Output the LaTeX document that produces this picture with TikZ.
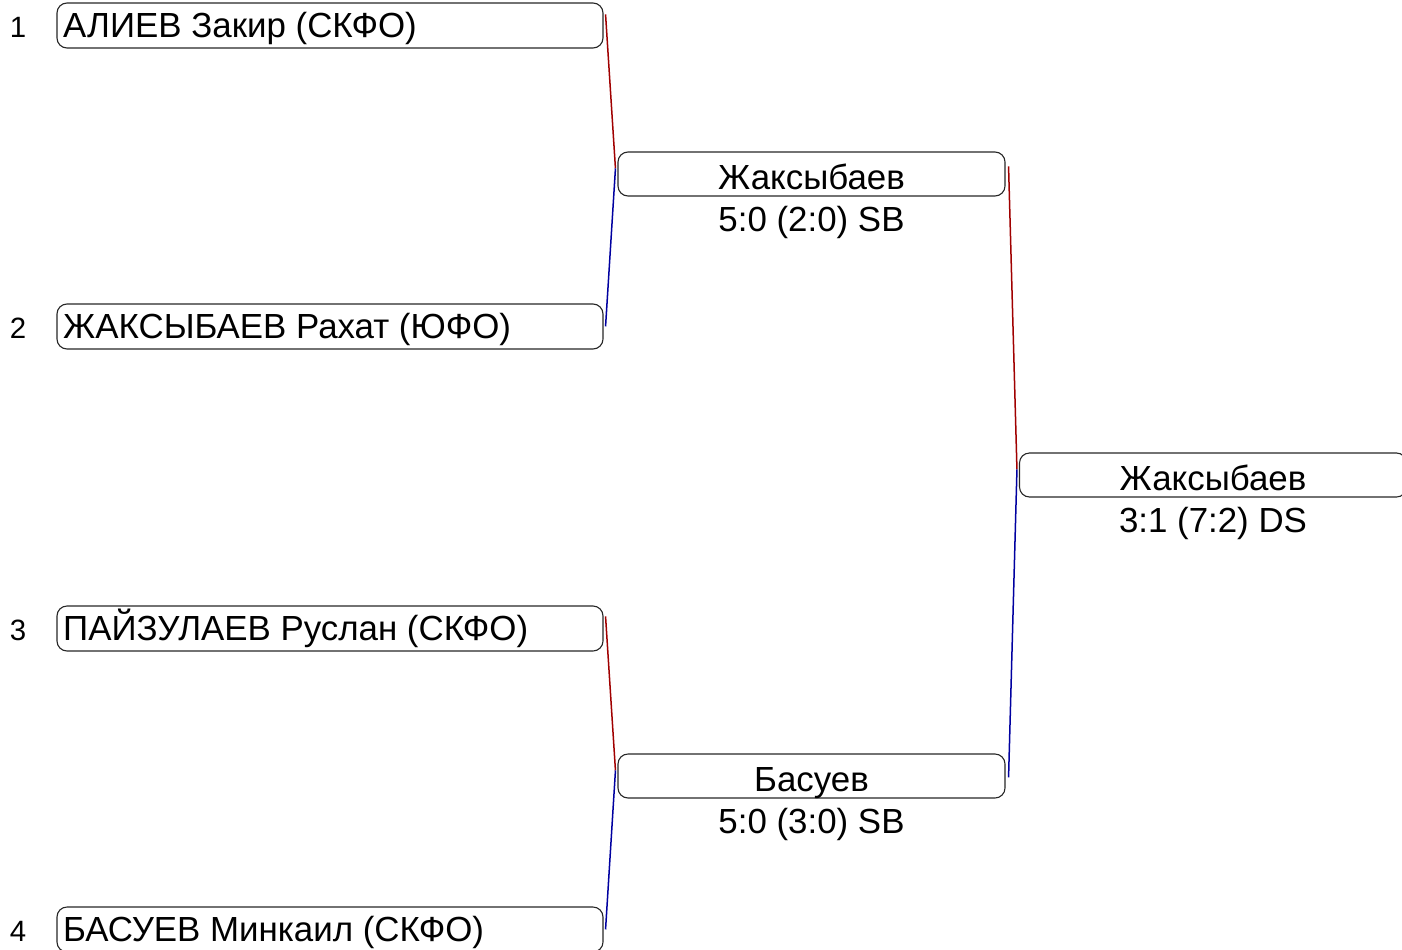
\documentclass[tikz,border=0pt]{standalone}
\usepackage{fontspec}
\setmainfont{Liberation Sans}
\usetikzlibrary{calc}
\begin{document}
\begin{tikzpicture}[x=1bp,y=-1bp,
  box/.style={draw=black!85,line width=1.1bp,rounded corners=10bp,rectangle,inner sep=0pt},
  namebox/.style={box,minimum width=546bp,minimum height=45bp},
  winbox/.style={box,minimum width=387bp,minimum height=44bp},
  txt/.style={inner sep=0pt,font=\fontsize{35}{40}\selectfont},
  numtxt/.style={inner sep=0pt,font=\fontsize{29.5}{34}\selectfont},
  redline/.style={draw={rgb,255:red,160;green,0;blue,0},line width=1.5bp},
  blueline/.style={draw={rgb,255:red,0;green,0;blue,160},line width=1.5bp}]
\useasboundingbox (0,0) rectangle (1402,949);
% first round boxes
\node[namebox] (b1) at (330,25.5) {};
\node[namebox] (b2) at (330,326.5) {};
\node[namebox] (b3) at (330,628.5) {};
\node[namebox] (b4) at (330,929.5) {};
\node[txt,anchor=base west] (t1) at (63,37.5) {АЛИЕВ Закир (СКФО)};
\node[txt,anchor=base west] (t2) at (63,338.5) {ЖАКСЫБАЕВ Рахат (ЮФО)};
\node[txt,anchor=base west] (t3) at (63,640.5) {ПАЙЗУЛАЕВ Руслан (СКФО)};
\node[txt,anchor=base west] (t4) at (63,941.5) {БАСУЕВ Минкаил (СКФО)};
\node[numtxt,anchor=base] (n1) at (18,37.5) {1};
\node[numtxt,anchor=base] (n2) at (18,338.5) {2};
\node[numtxt,anchor=base] (n3) at (18,640.5) {3};
\node[numtxt,anchor=base] (n4) at (18,941.5) {4};
% second round
\node[winbox] (m1) at (811.5,174) {};
\node[winbox] (m2) at (811.5,776) {};
\node[txt,anchor=base] (w1) at (811.5,189) {Жаксыбаев};
\node[txt,anchor=base] (s1) at (811.5,231) {5:0 (2:0) SB};
\node[txt,anchor=base] (w2) at (811.5,791) {Басуев};
\node[txt,anchor=base] (s2) at (811.5,833) {5:0 (3:0) SB};
% final
\node[winbox] (f) at (1213,475) {};
\node[txt,anchor=base] (wf) at (1213,490) {Жаксыбаев};
\node[txt,anchor=base] (sf) at (1213,532) {3:1 (7:2) DS};
% connectors
\coordinate (c1) at ($(b1.north east)+(2,12)$);
\coordinate (c2) at ($(b2.north east)+(2,23)$);
\coordinate (c3) at ($(b3.north east)+(2,11)$);
\coordinate (c4) at ($(b4.north east)+(2,23)$);
\coordinate (cm1) at ($(m1.north west)+(-2,17)$);
\coordinate (cm2) at ($(m2.north west)+(-2,17)$);
\coordinate (cm1o) at ($(m1.north east)+(3,15)$);
\coordinate (cm2o) at ($(m2.north east)+(3,24)$);
\coordinate (cf) at ($(f.north west)+(-2,17)$);
\draw[redline] (c1) -- (cm1);
\draw[blueline] (cm1) -- (c2);
\draw[redline] (c3) -- (cm2);
\draw[blueline] (cm2) -- (c4);
\draw[redline] (cm1o) -- (cf);
\draw[blueline] (cf) -- (cm2o);
\end{tikzpicture}
\end{document}
